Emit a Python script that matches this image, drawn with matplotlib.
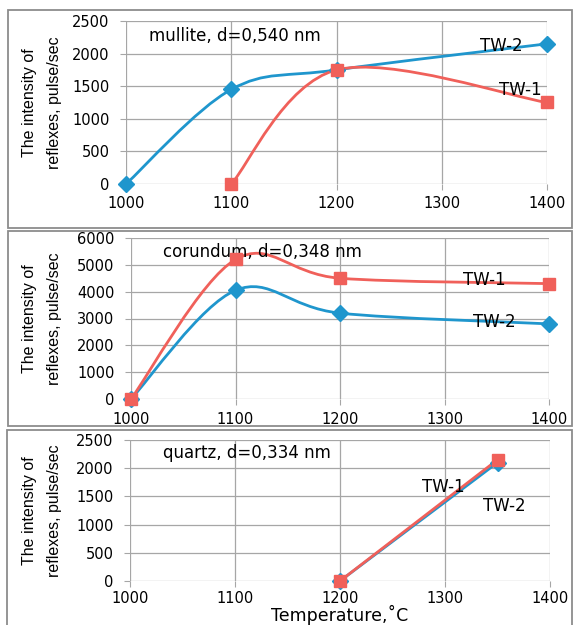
import matplotlib.pyplot as plt
from matplotlib.path import Path
from matplotlib.patches import PathPatch, Rectangle

# mullite, d=0,540 nm
mullite_t_tw2 = [1000, 1100, 1200, 1400]
mullite_tw2 = [0, 1450, 1750, 2150]
mullite_t_tw1 = [1100, 1200, 1400]
mullite_tw1 = [0, 1750, 1250]

# corundum, d=0,348 nm
corundum_t = [1000, 1100, 1200, 1400]
corundum_tw1 = [0, 5200, 4500, 4300]
corundum_tw2 = [0, 4050, 3200, 2800]

# quartz, d=0,334 nm
quartz_t = [1200, 1350]
quartz_tw1 = [0, 2150]
quartz_tw2 = [0, 2100]

x_ticks = [1000, 1100, 1200, 1300, 1400]

BLUE = '#1f96cd'
RED = '#f0605a'
GRID = '#a6a6a6'
FONT = 'DejaVu Sans'
YLABEL = 'The intensity of\nreflexes, pulse/sec'


def smooth_line(ax, xs, ys, color):
    # excel-like smoothed line: cubic bezier through the points
    n = len(xs)
    verts = [(xs[0], ys[0])]
    codes = [Path.MOVETO]
    for i in range(n - 1):
        a, b = max(i - 1, 0), min(i + 2, n - 1)
        c1 = (xs[i] + (xs[i + 1] - xs[a]) / 6, ys[i] + (ys[i + 1] - ys[a]) / 6)
        c2 = (xs[i + 1] - (xs[b] - xs[i]) / 6, ys[i + 1] - (ys[b] - ys[i]) / 6)
        verts += [c1, c2, (xs[i + 1], ys[i + 1])]
        codes += [Path.CURVE4] * 3
    ax.add_patch(PathPatch(Path(verts, codes), fill=False, edgecolor=color,
                           lw=2.0, capstyle='round', clip_on=False, zorder=3))


def series(ax, xs, ys, color, marker, ms):
    smooth_line(ax, xs, ys, color)
    ax.plot(xs, ys, linestyle='none', marker=marker, ms=ms, color=color,
            clip_on=False, zorder=4)


def setup(ax, ymax, ystep):
    ax.set_xlim(1000, 1400)
    ax.set_ylim(0, ymax)
    ax.set_xticks(x_ticks)
    ax.set_yticks(range(0, ymax + 1, ystep))
    ax.grid(True, color=GRID, lw=0.9)
    ax.set_axisbelow(True)
    for s in ax.spines.values():
        s.set_visible(False)
    ax.tick_params(length=4, color=GRID, labelsize=10.5)
    ax.tick_params(axis='y', pad=8)
    ax.tick_params(axis='x', pad=5)
    for lab in ax.get_xticklabels() + ax.get_yticklabels():
        lab.set_fontfamily(FONT)
    # y label centred left of the axes
    pos = ax.get_position()
    fig.text(42 / 574, pos.y0 + pos.height / 2, YLABEL, rotation=90,
             ha='center', va='center', multialignment='center',
             fontsize=11.5, family='Liberation Sans', linespacing=1.9)


fig = plt.figure(figsize=(5.74, 6.25), dpi=100)

# panel frames
for (x0, y0, x1, y1) in [(8, 10, 572, 228), (8, 231, 572, 426), (7, 430, 572, 640)]:
    fig.add_artist(Rectangle((x0 / 574, 1 - y1 / 625), (x1 - x0) / 574, (y1 - y0) / 625,
                             transform=fig.transFigure, fill=False,
                             edgecolor='#8c8c8c', lw=1.3))

ax1 = fig.add_axes([126 / 574, 1 - 184 / 625, 421 / 574, 163 / 625])
ax2 = fig.add_axes([131 / 574, 1 - 399 / 625, 418 / 574, 161 / 625])
ax3 = fig.add_axes([130 / 574, 1 - 581 / 625, 420 / 574, 141 / 625])

setup(ax1, 2500, 500)
series(ax1, mullite_t_tw2, mullite_tw2, BLUE, 'D', 8)
series(ax1, mullite_t_tw1, mullite_tw1, RED, 's', 9)
ax1.text(1022, 2270, 'mullite, d=0,540 nm', fontsize=12, family=FONT, va='center')
ax1.text(1336, 2110, 'TW-2', fontsize=12, family=FONT, va='center')
ax1.text(1354, 1440, 'TW-1', fontsize=12, family=FONT, va='center')

setup(ax2, 6000, 1000)
series(ax2, corundum_t, corundum_tw2, BLUE, 'D', 8)
series(ax2, corundum_t, corundum_tw1, RED, 's', 9)
ax2.text(1031, 5480, 'corundum, d=0,348 nm', fontsize=12, family=FONT, va='center')
ax2.text(1318, 4430, 'TW-1', fontsize=12, family=FONT, va='center')
ax2.text(1327, 2870, 'TW-2', fontsize=12, family=FONT, va='center')

setup(ax3, 2500, 500)
series(ax3, quartz_t, quartz_tw2, BLUE, 'D', 8)
series(ax3, quartz_t, quartz_tw1, RED, 's', 9)
ax3.tick_params(axis='x', pad=3)
ax3.text(1031, 2270, 'quartz, d=0,334 nm', fontsize=12, family=FONT, va='center')
ax3.text(1278, 1670, 'TW-1', fontsize=12, family=FONT, va='center')
ax3.text(1336, 1330, 'TW-2', fontsize=12, family=FONT, va='center')
fig.text(340 / 574, 1 - 615 / 625, 'Temperature,˚C', fontsize=12.5, family=FONT,
         ha='center', va='center')

fig.savefig('out.png', dpi=100)
